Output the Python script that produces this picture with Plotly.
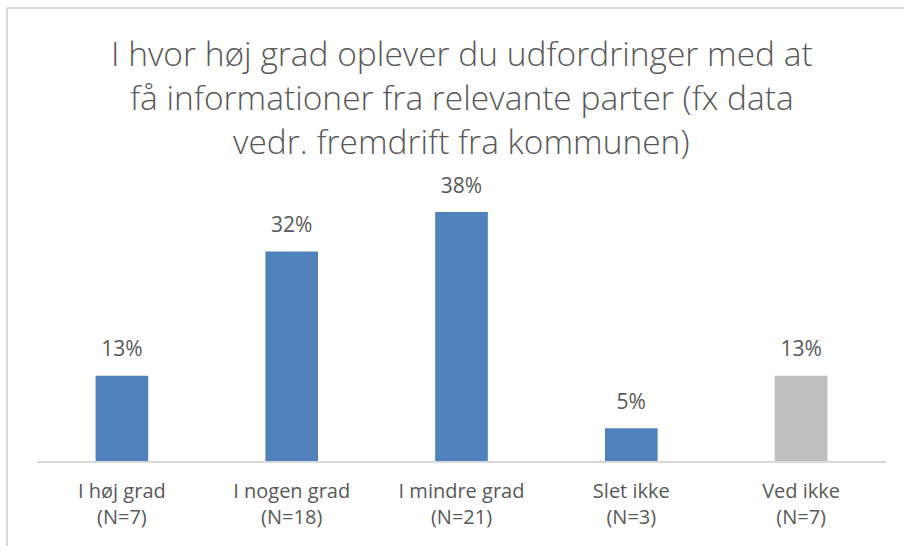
import plotly.graph_objects as go

categories = ["I høj grad<br>(N=7)", "I nogen grad<br>(N=18)", "I mindre grad<br>(N=21)",
              "Slet ikke<br>(N=3)", "Ved ikke<br>(N=7)"]
values = [13, 32, 38, 5, 13]
labels = ["13%", "32%", "38%", "5%", "13%"]
colors = ["#4F81BD", "#4F81BD", "#4F81BD", "#4F81BD", "#BFBFBF"]
title_lines = ["I hvor høj grad oplever du udfordringer med at",
               "få informationer fra relevante parter (fx data",
               "vedr. fremdrift fra kommunen)"]

FONT = "Open Sans"
TXT = "#595959"

W, H = 904, 546
ml, mr, mt, mb = 37, 18, 170, 85
plot_w = W - ml - mr
plot_h = H - mt - mb
px_per_unit = 6.55
ymax = plot_h / px_per_unit

fig = go.Figure()
fig.add_trace(go.Bar(x=categories, y=values, marker=dict(color=colors, line=dict(width=0)),
                     width=0.31, hoverinfo="skip", showlegend=False))
fig.add_trace(go.Scatter(x=categories, y=values, mode="markers+text", text=labels,
                         textposition="top center",
                         marker=dict(size=21, opacity=0),
                         textfont=dict(family=FONT, size=21, color=TXT),
                         hoverinfo="skip", showlegend=False))

def ypaper(py):
    return (H - mb - py) / plot_h

def xpaper(px):
    return (px - ml) / plot_w

for line, py in zip(title_lines, [53, 97, 141]):
    fig.add_annotation(text=line, xref="paper", yref="paper", x=0.5,
                       y=ypaper(py), xanchor="center", yanchor="middle", showarrow=False,
                       font=dict(family=FONT, size=33.5, color=TXT, weight=300))

frame = dict(color="#D9D9D9", width=2)
fig.add_shape(type="line", xref="paper", yref="paper",
              x0=xpaper(7), x1=xpaper(W), y0=ypaper(8), y1=ypaper(8), line=frame)
fig.add_shape(type="line", xref="paper", yref="paper",
              x0=xpaper(7), x1=xpaper(7), y0=ypaper(8), y1=ypaper(H), line=frame)

fig.update_layout(
    width=W, height=H,
    margin=dict(l=ml, r=mr, t=mt, b=mb),
    paper_bgcolor="white", plot_bgcolor="white",
    bargap=0.69,
    font=dict(family=FONT, color=TXT),
    xaxis=dict(showline=True, linecolor="#D9D9D9", linewidth=2, ticks="",
               tickfont=dict(family=FONT, size=20, color=TXT), showgrid=False,
               ticklabelstandoff=11, fixedrange=True),
    yaxis=dict(range=[0, ymax], visible=False, showgrid=False, fixedrange=True),
)

fig.write_html("out.html", config={"displayModeBar": False},
               post_script="document.body.style.margin='0';document.body.style.overflow='hidden';"
                           "document.documentElement.style.overflow='hidden';")
